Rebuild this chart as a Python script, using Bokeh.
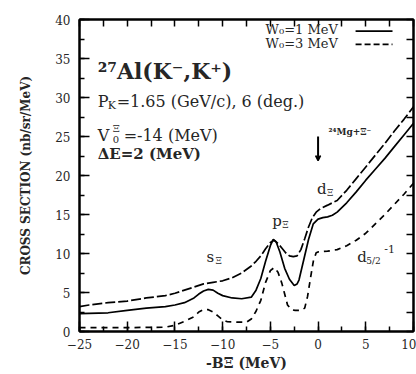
from bokeh.plotting import figure
from bokeh.models import Range1d, FixedTicker, LinearAxis, Label, Arrow, VeeHead
from bokeh.embed import file_html
from bokeh.resources import INLINE

# ---- data ----
x_w3 = [-25, -24, -22, -20, -18, -16, -15, -14, -13, -12, -11, -10, -9, -8, -7, -6.5, -6, -5.5, -5,
        -4.6, -4.2, -3.8, -3.4, -3, -2.6, -2.2, -1.8, -1.4, -1, -0.6, -0.2, 0.3, 1, 2, 3, 4, 5, 6, 7, 8, 9, 10]
y_w3 = [3.2, 3.4, 3.7, 3.9, 4.3, 4.6, 4.9, 5.3, 5.7, 6.1, 6.3, 6.5, 6.9, 7.5, 8.4, 9.0, 9.7, 10.6, 11.4,
        11.7, 11.3, 10.7, 10.1, 9.7, 9.6, 9.7, 10.5, 11.9, 13.4, 14.6, 15.3, 15.8, 16.2, 16.8, 18.1, 19.6,
        21.1, 22.6, 24.1, 25.7, 27.2, 28.8]

x_w1 = [-25, -22, -20, -18, -16, -15, -14, -13, -12.5, -12, -11.5, -11, -10.5, -10, -9, -8, -7, -6.5, -6,
        -5.5, -5, -4.7, -4.4, -4, -3.5, -3, -2.5, -2.2, -2, -1.5, -1, -0.5, 0, 0.5, 1, 1.5, 2, 3, 4, 5, 6,
        7, 8, 9, 10]
y_w1 = [2.3, 2.4, 2.7, 3.0, 3.2, 3.4, 3.7, 4.3, 4.8, 5.2, 5.4, 5.3, 4.9, 4.6, 4.3, 4.2, 4.4, 5.3, 6.8,
        9.0, 11.0, 11.8, 11.5, 10.2, 8.1, 6.7, 5.9, 6.1, 6.6, 9.2, 11.8, 13.8, 14.4, 14.6, 14.7, 14.9,
        15.3, 16.5, 17.9, 19.4, 20.8, 22.2, 23.7, 25.2, 26.7]

x_d52 = [-25, -20, -16, -15, -14, -13, -12.5, -12, -11.5, -11, -10.5, -10, -9.5, -8.5, -7.5, -7, -6.5,
         -6, -5.5, -5, -4.6, -4.2, -3.8, -3.5, -3.2, -2.8, -2.4, -2.0, -1.8, -1.4, -1.1, -0.8, -0.5,
         -0.2, 0, 1, 2, 3, 4, 5, 6, 7, 8, 9, 10]
y_d52 = [0.5, 0.5, 0.55, 0.8, 1.3, 1.9, 2.5, 2.8, 2.8, 2.5, 2.0, 1.5, 1.25, 1.2, 1.2, 1.6, 2.6,
         4.0, 6.3, 7.8, 8.2, 7.6, 6.2, 4.8, 3.4, 2.8, 2.7, 2.7, 2.7, 3.0, 4.5, 6.8, 9.0,
         10.1, 10.2, 10.3, 10.5, 11.0, 11.7, 12.6, 13.8, 15.0, 16.3, 17.6, 19.0]

x_ticks = [-25, -20, -15, -10, -5, 0, 5, 10]
x_minor = [-25 + 2.5 * i for i in range(15)]
y_ticks = [0, 5, 10, 15, 20, 25, 30, 35, 40]
y_minor = [2.5 * i for i in range(17)]

SERIF = "DejaVu Serif"
TXT = "#262626"

p = figure(width=416, height=374, x_range=Range1d(-25, 10), y_range=Range1d(0, 40),
           output_backend="svg", toolbar_location=None,
           min_border_left=79, min_border_right=3, min_border_top=19, min_border_bottom=43)
p.grid.visible = False
p.outline_line_color = "black"
p.outline_line_width = 2
p.background_fill_color = "white"
p.border_fill_color = "white"

bottom_ax = p.below[0]
left_ax = p.left[0]
bottom_ax.ticker = FixedTicker(ticks=x_ticks, minor_ticks=x_minor)
left_ax.ticker = FixedTicker(ticks=y_ticks, minor_ticks=y_minor)

top_ax = LinearAxis(ticker=FixedTicker(ticks=[], minor_ticks=x_minor))
right_ax = LinearAxis(ticker=FixedTicker(ticks=[], minor_ticks=y_minor))
p.add_layout(top_ax, "above")
p.add_layout(right_ax, "right")

for ax in [bottom_ax, left_ax, top_ax, right_ax]:
    ax.major_tick_in = 10
    ax.major_tick_out = 0
    ax.minor_tick_in = 5
    ax.minor_tick_out = 0
    ax.axis_line_width = 2
    ax.axis_line_color = "black"
    ax.major_tick_line_width = 1.5
    ax.minor_tick_line_width = 1.5
    ax.major_tick_line_color = "black"
    ax.minor_tick_line_color = "black"
    ax.major_label_text_font = SERIF
    ax.major_label_text_font_size = "12px"
    ax.major_label_text_color = TXT

top_ax.minor_tick_in = 7
right_ax.minor_tick_in = 7
top_ax.major_label_standoff = 0
right_ax.major_label_standoff = 0

bottom_ax.major_label_standoff = 7
bottom_ax.axis_label = "-BΞ (MeV)"
bottom_ax.axis_label_text_font = SERIF
bottom_ax.axis_label_text_font_style = "bold"
bottom_ax.axis_label_text_font_size = "14px"
bottom_ax.axis_label_text_color = TXT
bottom_ax.axis_label_standoff = 3

left_ax.major_label_standoff = 9
left_ax.axis_label = "CROSS SECTION (nb/sr/MeV)"
left_ax.axis_label_text_font = SERIF
left_ax.axis_label_text_font_style = "bold"
left_ax.axis_label_text_font_size = "12px"
left_ax.axis_label_text_color = TXT
left_ax.axis_label_standoff = 19

# ---- curves ----
p.line(x_w3, y_w3, line_color="black", line_width=1.7, line_dash="10 3")
p.line(x_w1, y_w1, line_color="black", line_width=1.7)
p.line(x_d52, y_d52, line_color="black", line_width=1.7, line_dash="6 5")


def lab(x, y, text, size, dx=0, dy=0, bold=False, baseline="alphabetic"):
    p.add_layout(Label(x=x, y=y, text=text, x_offset=dx, y_offset=dy,
                       text_font=SERIF, text_font_size=size, text_color=TXT,
                       text_font_style="bold" if bold else "normal",
                       text_baseline=baseline, text_align="left"))


# title block
lab(-23.1, 33.46, "²⁷Al(K⁻,K⁺)", "22px", bold=True)
lab(-23.1, 29.5, "P", "16px")
lab(-23.1, 29.5, "K", "11px", dx=10, dy=-4)
lab(-23.1, 29.5, "=1.65 (GeV/c), 6 (deg.)", "16px", dx=19)
lab(-23.1, 25.1, "V", "16px")
lab(-23.1, 25.1, "Ξ", "10px", dx=15, dy=7)
lab(-23.1, 25.1, "0", "10px", dx=15, dy=-4)
lab(-23.1, 25.1, "=-14 (MeV)", "16px", dx=26)
lab(-23.1, 22.8, "ΔE=2 (MeV)", "15px", bold=True)

# legend
lab(-5.5, 38.7, "W₀=1 MeV", "13px", baseline="middle")
lab(-5.5, 36.9, "W₀=3 MeV", "13px", baseline="middle")
p.add_layout(Arrow(x_start=3.93, y_start=38.5, x_end=7.8, y_end=38.5, start=None, end=None,
                   line_color="black", line_width=1.7))
p.add_layout(Arrow(x_start=3.93, y_start=36.8, x_end=7.8, y_end=36.8, start=None, end=None,
                   line_color="black", line_width=1.7, line_dash="6 3"))

# state labels
lab(-11.7, 9.5, "s", "15px")
lab(-11.7, 9.5, "Ξ", "9px", dx=9, dy=-4)
lab(-4.8, 14.2, "p", "15px")
lab(-4.8, 14.2, "Ξ", "9px", dx=10, dy=-4)
lab(-0.1, 18.3, "d", "15px")
lab(-0.1, 18.3, "Ξ", "9px", dx=10, dy=-4)
lab(4.1, 9.5, "d", "15px")
lab(4.1, 9.5, "5/2", "9px", dx=9, dy=-4)
lab(4.1, 9.5, "-1", "11px", dx=27, dy=8)

# threshold arrow
p.add_layout(Arrow(x_start=0, y_start=25.0, x_end=0, y_end=21.9,
                   end=VeeHead(size=5, line_color="black", fill_color="black", line_width=1.5),
                   line_color="black", line_width=2))
lab(1.1, 25.6, "²⁴Mg+Ξ⁻", "9px", bold=True, baseline="middle")

open("out.html", "w").write(file_html(p, INLINE))
